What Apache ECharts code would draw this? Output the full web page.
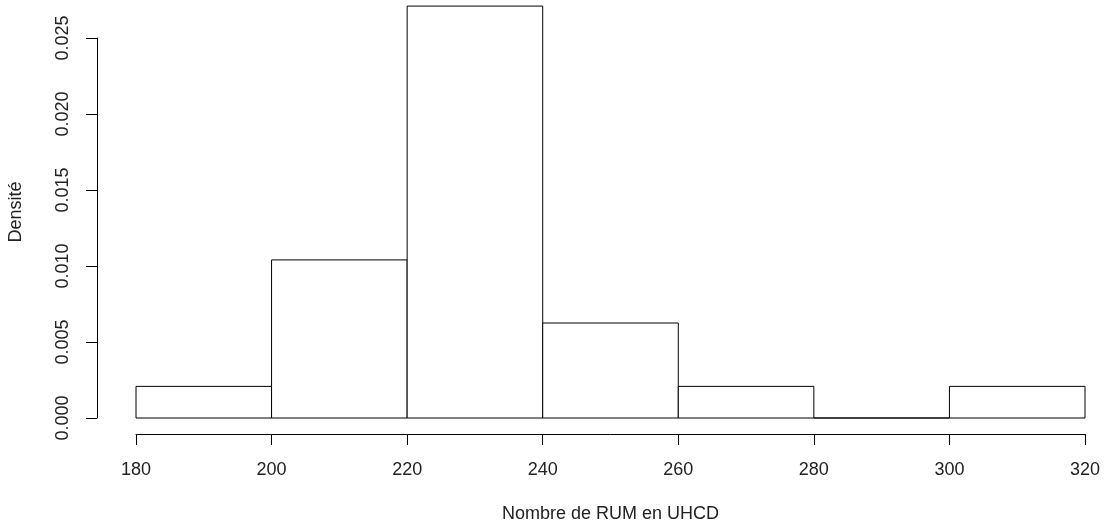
<!DOCTYPE html>
<html>
<head>
<meta charset="utf-8">
<script src="https://cdn.jsdelivr.net/npm/echarts@6/dist/echarts.min.js"></script>
<style>
  html, body { margin: 0; padding: 0; background: #fff; }
  #chart { width: 1109px; height: 525px; }
</style>
</head>
<body>
<div id="chart"></div>
<script>
// histogram bins (Nombre de RUM en UHCD) and densities
const binStarts = [180, 200, 220, 240, 260, 280, 300];
const binEnds = [200, 220, 240, 260, 280, 300, 320];
const densities = [0.00208, 0.0104, 0.0271, 0.00625, 0.00208, 0, 0.00208];
const yTicks = [0, 0.005, 0.01, 0.015, 0.02, 0.025];

const font = 'Liberation Sans, Arial, sans-serif';
const textColor = '#222';

const chart = echarts.init(document.getElementById('chart'));

const histData = binStarts.map((s, i) => [s, binEnds[i], densities[i]]);

chart.setOption({
  animation: false,
  grid: { left: 136, right: 24, top: 38, bottom: 107, outerBoundsMode: 'none' },
  xAxis: {
    type: 'value',
    min: 180,
    max: 320,
    interval: 20,
    offset: 16,
    name: 'Nombre de RUM en UHCD',
    nameLocation: 'middle',
    nameGap: 71,
    nameTextStyle: { fontFamily: font, fontSize: 18, color: textColor },
    axisLine: { show: true, onZero: false, lineStyle: { color: '#000', width: 1 } },
    axisTick: { show: true, length: 11, lineStyle: { color: '#000' } },
    axisLabel: { margin: 27, fontFamily: font, fontSize: 18, color: textColor },
    splitLine: { show: false }
  },
  yAxis: {
    type: 'value',
    min: yTicks[0],
    max: yTicks[yTicks.length - 1],
    interval: 0.005,
    offset: 39,
    name: 'Densité',
    nameLocation: 'middle',
    nameGap: 72,
    nameTextStyle: { fontFamily: font, fontSize: 18, color: textColor, padding: [0, 0, 0, 32] },
    axisLine: { show: true, onZero: false, lineStyle: { color: '#000', width: 1 } },
    axisTick: { show: true, length: 11, lineStyle: { color: '#000' } },
    axisLabel: {
      rotate: 90,
      margin: 25,
      fontFamily: font,
      fontSize: 18,
      color: textColor,
      formatter: (v) => v.toFixed(3)
    },
    splitLine: { show: false }
  },
  series: [{
    type: 'custom',
    clip: false,
    data: histData,
    renderItem: (params, api) => {
      const p0 = api.coord([api.value(0), api.value(2)]);
      const p1 = api.coord([api.value(1), 0]);
      return {
        type: 'rect',
        shape: { x: p0[0], y: p0[1], width: p1[0] - p0[0], height: p1[1] - p0[1] },
        style: { fill: '#fff', stroke: '#000', lineWidth: 1 }
      };
    }
  }]
});
</script>
</body>
</html>
